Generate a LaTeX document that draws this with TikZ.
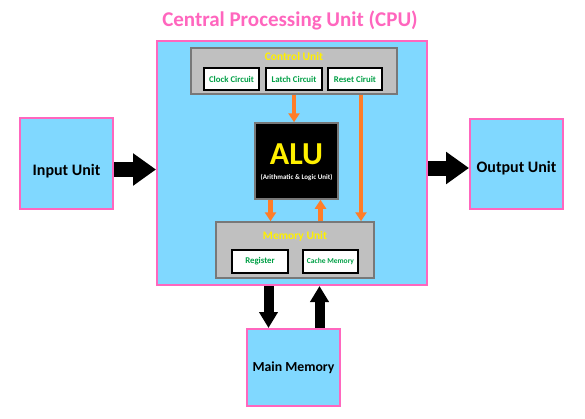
\documentclass[tikz,border=0pt]{standalone}
\usepackage{fontspec}
\setmainfont{Carlito}
\usepackage{tikz}
\usetikzlibrary{arrows.meta, positioning, calc}
\definecolor{unitblue}{RGB}{128, 216, 255}
\definecolor{framepink}{RGB}{255, 102, 190}
\definecolor{boxgray}{RGB}{192, 192, 192}
\definecolor{edgegray}{RGB}{120, 120, 120}
\definecolor{circgreen}{RGB}{0, 160, 70}
\definecolor{flowarrow}{RGB}{255, 125, 40}
\definecolor{labelyellow}{RGB}{255, 240, 0}

\begin{document}
\begin{tikzpicture}[x=1pt, y=-1pt,
  unit/.style={draw=framepink, line width=2pt, fill=unitblue, inner sep=0pt, font=\fontsize{16}{18}\selectfont\bfseries},
  part/.style={draw=edgegray, line width=1.5pt, fill=boxgray, inner sep=0pt},
  circ/.style={draw, line width=1.8pt, fill=white, inner sep=0pt, minimum height=22pt, text=circgreen, font=\fontsize{8.8}{9}\selectfont\bfseries},
  fat/.style={line width=15pt, -{Triangle[length=23pt, width=31pt]}},
  slim/.style={line width=10pt, -{Triangle[length=16pt, width=18pt]}},
  flow/.style={flowarrow, line width=4.5pt, -{Triangle[length=9pt, width=11pt]}},
]
  \useasboundingbox (0,0) rectangle (585,418);

  % outer units
  \node[unit, minimum width=270pt, minimum height=244pt] (cpu) at (292,163) {};
  \node[font=\fontsize{21}{23}\selectfont\bfseries, text=framepink] (title) at (290,20) {Central Processing Unit (CPU)};
  \node[unit, minimum width=93pt, minimum height=91pt, text height=23pt, text depth=0pt] (input) at (66.5,163.5) {Input Unit};
  \node[unit, minimum width=93pt, minimum height=90pt, text height=17pt, text depth=0pt] (output) at (516.5,164) {Output Unit};
  \node[unit, minimum width=93pt, minimum height=77pt, font=\fontsize{13.8}{16}\selectfont\bfseries] (mainmem) at (293.5,367.5) {Main Memory};

  % control unit
  \node[part, minimum width=206pt, minimum height=46pt] (control) at (294,71) {};
  \node[text=labelyellow, font=\fontsize{11.5}{13}\selectfont\bfseries] (ctltext) at (294,57) {Control Unit};
  \node[circ, minimum width=55pt] (clock) at (231.5,79) {Clock Circuit};
  \node[circ, minimum width=56pt] (latch) at (294,79) {Latch Circuit};
  \node[circ, minimum width=54pt] (reset) at (355,79) {Reset Ciruit};

  % alu
  \node[draw=edgegray, line width=1.5pt, fill=black, minimum width=83pt, minimum height=76pt] (alu) at (296.5,161) {};
  \node[text=labelyellow, font=\fontsize{32}{34}\selectfont\bfseries] (alutext) at (296.5,154) {ALU};
  \node[text=white, font=\fontsize{7}{8}\selectfont\bfseries] (alusub) at (296.5,177) {(Arithmatic \& Logic Unit)};

  % memory unit
  \node[part, minimum width=158pt, minimum height=56pt] (memory) at (295,250) {};
  \node[text=labelyellow, font=\fontsize{11.5}{13}\selectfont\bfseries] (memtext) at (295,236) {Memory Unit};
  \node[circ, minimum width=56pt, minimum height=23pt] (register) at (260,261.5) {Register};
  \node[circ, minimum width=55pt, minimum height=23pt, font=\fontsize{7.5}{8}\selectfont\bfseries] (cache) at (330.5,261.5) {Cache Memory};

  % orange flows
  \draw[flow] (latch.south |- control.south) -- (latch.south |- alu.north);
  \draw[flow] ([xshift=6pt]reset.south |- control.south) -- ([xshift=6pt]reset.south |- memory.north);
  \draw[flow] ([xshift=-26pt]alu.south) -- ([xshift=-26pt]alu.south |- memory.north);
  \draw[flow] ([xshift=24pt]alu.south |- memory.north) -- ([xshift=24pt]alu.south);

  % black arrows
  \draw[fat] ([yshift=-6pt]input.east) -- ([yshift=-6pt]input.east -| cpu.west);
  \draw[fat] ([yshift=-4pt]output.west -| cpu.east) -- ([yshift=-4pt]output.west);
  \draw[slim] ([xshift=-25pt]mainmem.north |- cpu.south) -- ([xshift=-25pt]mainmem.north);
  \draw[slim] ([xshift=26pt]mainmem.north) -- ([xshift=26pt]mainmem.north |- cpu.south);
\end{tikzpicture}
\end{document}
